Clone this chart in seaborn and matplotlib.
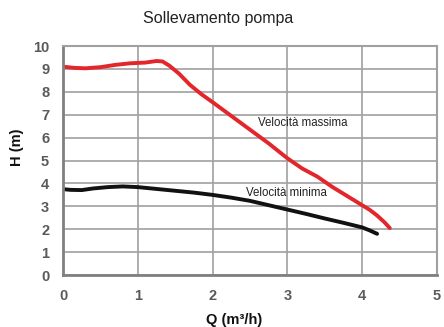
import pandas as pd
import seaborn as sns
import matplotlib.pyplot as plt

# Curve: portata Q (m3/h) e prevalenza H (m)
q_max = [0.0, 0.15, 0.3, 0.5, 0.7, 0.9, 1.1, 1.25, 1.33, 1.42, 1.55, 1.7, 1.85,
         2.0, 2.25, 2.5, 2.75, 3.0, 3.2, 3.4, 3.6, 3.8, 4.0, 4.1, 4.2, 4.3, 4.37]
h_max = [9.10, 9.05, 9.03, 9.08, 9.18, 9.25, 9.28, 9.35, 9.33, 9.15, 8.8, 8.3, 7.9,
         7.55, 6.95, 6.35, 5.75, 5.1, 4.65, 4.3, 3.85, 3.45, 3.05, 2.85, 2.6, 2.3, 2.05]

q_min = [0.0, 0.1, 0.25, 0.4, 0.6, 0.8, 1.0, 1.25, 1.5, 1.75, 2.0, 2.25, 2.5,
         2.75, 3.0, 3.25, 3.5, 3.75, 4.0, 4.1, 4.2]
h_min = [3.75, 3.72, 3.71, 3.78, 3.84, 3.87, 3.84, 3.76, 3.68, 3.6, 3.5, 3.38, 3.24,
         3.05, 2.86, 2.67, 2.47, 2.28, 2.08, 1.95, 1.8]

curve_names = ["Velocità massima", "Velocità minima"]
x_ticks = [0, 1, 2, 3, 4, 5]
y_ticks = list(range(0, 11))

df = pd.concat([
    pd.DataFrame({"Q": q_max, "H": h_max, "curva": curve_names[0]}),
    pd.DataFrame({"Q": q_min, "H": h_min, "curva": curve_names[1]}),
], ignore_index=True)

sns.set_style("white")
plt.rcParams["font.family"] = ["Liberation Sans", "DejaVu Sans"]

fig = plt.figure(figsize=(4.44, 3.27), dpi=100)
ax = fig.add_axes([0.142, 0.159, 0.842, 0.700])

# griglia
for v in x_ticks:
    ax.axvline(v, color="#a0a0a0", lw=1.2, zorder=0)
for v in y_ticks:
    ax.axhline(v, color="#a0a0a0", lw=1.2, zorder=0)

sns.lineplot(data=df, x="Q", y="H", hue="curva", sort=False, estimator=None,
             palette={curve_names[0]: "#e3262b", curve_names[1]: "#111111"},
             linewidth=2.8, legend=False, ax=ax)

ax.set_xlim(0, 5)
ax.set_ylim(0, 10)
ax.set_xticks(x_ticks)
ax.set_yticks(y_ticks)
ax.tick_params(axis="both", direction="out", length=4, width=1.2, color="#a0a0a0",
               labelsize=10.5, labelcolor="#5a5a5a", pad=6)
for lab in ax.get_xticklabels() + ax.get_yticklabels():
    lab.set_fontweight("bold")

for side in ["left", "bottom"]:
    ax.spines[side].set_color("#808080")
    ax.spines[side].set_linewidth(2)
for side in ["top", "right"]:
    ax.spines[side].set_color("#a0a0a0")
    ax.spines[side].set_linewidth(1.5)

ax.set_xlabel("Q (m³/h)", fontsize=10.5, fontweight="bold", color="#111111")
ax.xaxis.set_label_coords(0.457, -0.168)
ax.set_ylabel("H (m)", fontsize=10.5, fontweight="bold", color="#111111")
ax.yaxis.set_label_coords(-0.105, 0.56)

ax.text(3.21, 6.66, curve_names[0], fontsize=8.3, ha="center", va="center", color="#222222")
ax.text(2.99, 3.57, curve_names[1], fontsize=8.3, ha="center", va="center", color="#222222")

fig.text(218 / 444, 1 - 18 / 327, "Sollevamento pompa", fontsize=11.5, ha="center",
         va="center", color="#222222")

fig.savefig("out.png", dpi=100, facecolor="white")
